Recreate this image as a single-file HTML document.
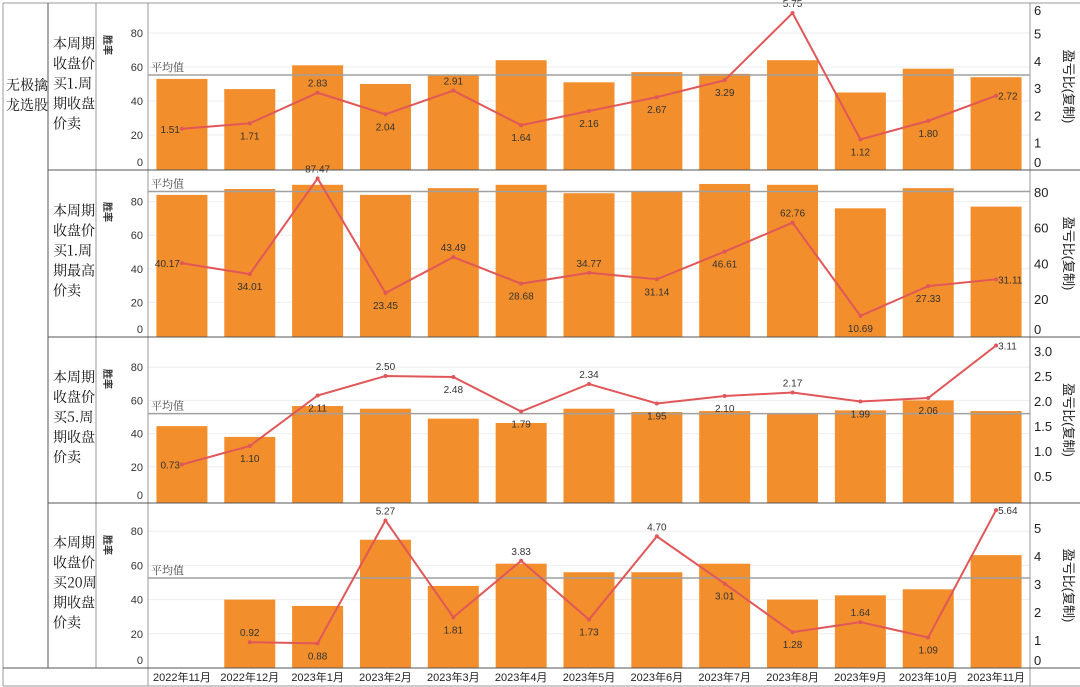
<!DOCTYPE html>
<html><head><meta charset="utf-8"><style>
body{margin:0;background:#fff;}
svg{display:block;font-family:"Liberation Sans","Noto Sans CJK SC",sans-serif;}
</style></head><body>
<svg id="c" width="1080" height="687" viewBox="0 0 1080 687" xmlns="http://www.w3.org/2000/svg"></svg>
<script>
const categories=["2022年11月","2022年12月","2023年1月","2023年2月","2023年3月","2023年4月","2023年5月","2023年6月","2023年7月","2023年8月","2023年9月","2023年10月","2023年11月"];
const rowTitles=[["本周期","收盘价","买1.周","期收盘","价卖"],["本周期","收盘价","买1.周","期最高","价卖"],["本周期","收盘价","买5.周","期收盘","价卖"],["本周期","收盘价","买20周","期收盘","价卖"]];
const winRate1=[53,47,61,50,55,64,51,57,56,64,45,59,54];
const winRate2=[84,87.5,90,84,88,90,85,86,90.5,90,76,88,77];
const winRate3=[44.5,38,56.6,55,49,46.4,55,53,53.6,52,54,60,53.6];
const winRate4=[null,40,36.3,75,48,61,56,56,61,40,42.5,46,66];
const ratio1=[1.51,1.71,2.83,2.04,2.91,1.64,2.16,2.67,3.29,5.75,1.12,1.80,2.72];
const ratio2=[40.17,34.01,87.47,23.45,43.49,28.68,34.77,31.14,46.61,62.76,10.69,27.33,31.11];
const ratio3=[0.73,1.10,2.11,2.50,2.48,1.79,2.34,1.95,2.10,2.17,1.99,2.06,3.11];
const ratio4=[null,0.92,0.88,5.27,1.81,3.83,1.73,4.70,3.01,1.28,1.64,1.09,5.64];
const avgWin=[55.3,86,52,52.6];
const leftTicks=[0,20,40,60,80];
const rightTicks1=[0,1,2,3,4,5,6];
const rightTicks2=[0,20,40,60,80];
const rightTicks3=[0.5,1.0,1.5,2.0,2.5,3.0];
const rightTicks4=[0,1,2,3,4,5];

const svg=document.getElementById('c');
const NS='http://www.w3.org/2000/svg';
function el(t,a,p){const e=document.createElementNS(NS,t);for(const k in a)e.setAttribute(k,a[k]);(p||svg).appendChild(e);return e;}
function txt(s,a,p){const e=el('text',a,p);e.textContent=s;return e;}

const X0=148,X1=1030,step=(X1-X0)/categories.length;
const xc=i=>X0+step*(i+0.5);
const rows=[
 {top:3,bot:170,zero:169,lpx:1.7,rzero:170,rpx:27.3,win:winRate1,ratio:ratio1,rt:rightTicks1,fmt:v=>String(v)},
 {top:170,bot:337,zero:336,lpx:1.68,rzero:335,rpx:1.79,win:winRate2,ratio:ratio2,rt:rightTicks2,fmt:v=>String(v)},
 {top:337,bot:503,zero:500,lpx:1.66,rzero:501,rpx:50,win:winRate3,ratio:ratio3,rt:rightTicks3,fmt:v=>v.toFixed(1)},
 {top:503,bot:668,zero:668,lpx:1.71,rzero:668,rpx:28,win:winRate4,ratio:ratio4,rt:rightTicks4,fmt:v=>String(v)}
];

rows.forEach((r,ri)=>{
 const g=el('g',{});
 
 
 const yl=v=>r.zero-v*r.lpx, yr=v=>r.rzero-v*r.rpx;
 // grid
 leftTicks.forEach(t=>{if(t>0)el('line',{x1:X0,x2:X1,y1:yl(t),y2:yl(t),stroke:'#eeeeee','stroke-width':1},g);});
 // left tick labels
 leftTicks.forEach(t=>{let y=yl(t)+4;if(t===0)y=r.bot-4;
  const e=txt(String(t),{x:143,y:y,'text-anchor':'end','font-size':11,fill:'#333'},g);
  });
 const yt=txt('胜率',{x:0,y:0,'font-size':10,'font-weight':'bold',fill:'#333',transform:`translate(104,${r.top+42}) rotate(90)`,'text-anchor':'middle'},g);
 
 // bars
 r.win.forEach((v,i)=>{if(v==null)return;
  const b=el('rect',{x:xc(i)-25.5,y:yl(v),width:51,height:r.bot-yl(v),fill:'#f28e2b'},g);
  });
 // avg line
 const ay=yl(avgWin[ri]);
 el('line',{x1:X0,x2:X1,y1:ay,y2:ay,stroke:'#a0a0a0','stroke-width':1.5},g);
 const al=txt('平均值',{x:151,y:ay-4,'font-size':11,fill:'#444','font-family':'"Noto Serif CJK SC",serif'},g);
 
 // line
 let d='';r.ratio.forEach((v,i)=>{if(v==null)return;d+=(d?'L':'M')+xc(i)+','+yr(v);});
 const pl=el('path',{d:d,fill:'none',stroke:'#e15759','stroke-width':2},g);
 
 r.ratio.forEach((v,i)=>{if(v==null)return;
  const c=el('circle',{cx:xc(i),cy:yr(v),r:2,fill:'#e15759'},g);
  
  const pv=r.ratio[i-1],nv=r.ratio[i+1];
  const peak=(pv==null||v>pv)&&(nv==null||v>nv);
  let lx=xc(i),ly=peak?yr(v)-6:yr(v)+16,anc='middle';
  if(i===0&&pv==null){lx=xc(i)-2;ly=yr(v)+4;anc='end';}
  if(i===categories.length-1){lx=xc(i)+2;ly=yr(v)+4;anc='start';}
  const t=txt(v.toFixed(2),{x:lx,y:ly,'text-anchor':anc,'font-size':10,fill:'#333'},g);
  });
 // right ticks
 r.rt.forEach(t=>{let y=yr(t)+5;if(y>r.bot-3)y=r.bot-3;if(y<r.top+12)y=r.top+12;
  const e=txt(r.fmt(t),{x:1034,y:y,'font-size':13,fill:'#222'},g);
  });
 const rt=txt('盈亏比(复制)',{x:0,y:0,'font-size':13,fill:'#222','text-anchor':'middle',transform:`translate(1064,${(r.top+r.bot)/2}) rotate(90)`},g);
 
 // row title
 rowTitles[ri].forEach((s,k)=>{
  const e=txt(s,{x:53,y:(r.top+r.bot)/2-38+k*20,'font-size':14,fill:'#111','font-family':'"Noto Serif CJK SC",serif'},g);
  });
});
// left group title
['无极擒','龙选股'].forEach((s,k)=>{const e=txt(s,{x:6,y:90+k*20,'font-size':14,fill:'#111','font-family':'"Noto Serif CJK SC",serif'});
 });
// x labels
categories.forEach((c,i)=>{const e=txt(c,{x:xc(i),y:681,'text-anchor':'middle','font-size':11,fill:'#222'});
 });
// borders
const L=(x1,y1,x2,y2,c)=>el('line',{x1,y1,x2,y2,stroke:c||'#555','stroke-width':1});
L(3,3,1080,3,'#999');L(3,686,1080,686,'#999');L(3,3,3,686,'#999');
L(48,3,48,668);L(96,3,96,668,'#999');L(148,3,148,686,'#999');L(1030,3,1030,686,'#999');
[170,337,503].forEach(y=>L(48,y,1080,y));L(3,668,1080,668);
</script>
</body></html>
